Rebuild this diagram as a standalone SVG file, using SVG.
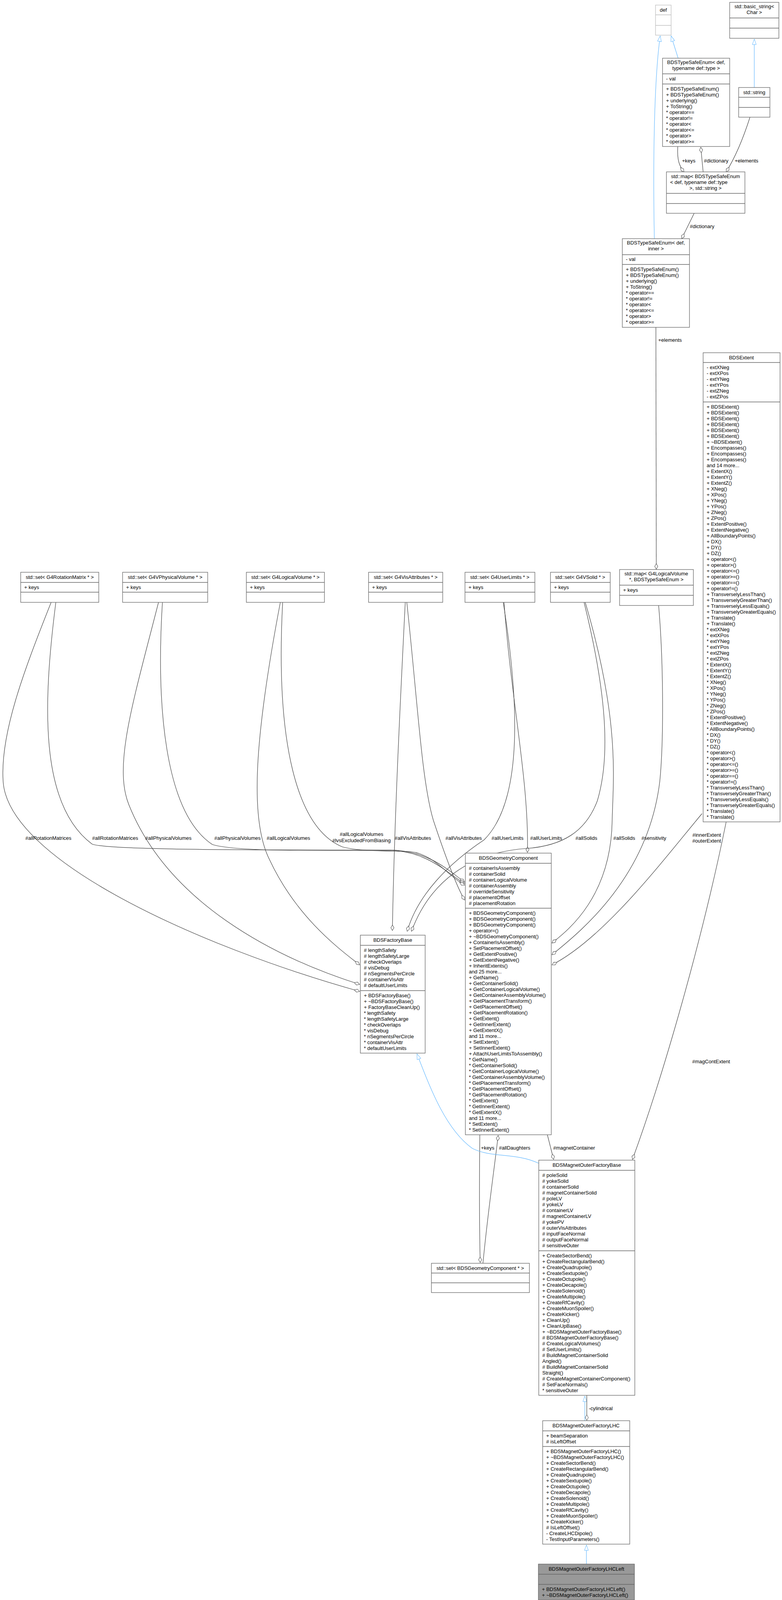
<svg xmlns="http://www.w3.org/2000/svg" width="2003" height="4102" viewBox="0 0 2003 4102">
<style>
text{font-family:"Liberation Sans",Arial,sans-serif;font-size:13px;fill:#000}
.c{text-anchor:middle}
.n rect{fill:#fff;stroke:#666;stroke-width:1.3}
.n line{stroke:#666;stroke-width:1.3}
.g rect{stroke:#bfbfbf}.g line{stroke:#bfbfbf}
.cur rect{fill:#999}
.e path{fill:none;stroke:#404040;stroke-width:1.2}
.e path.d{marker-end:url(#dia)}
.e path.i{stroke:#63b8ff;marker-end:url(#tri)}
</style>
<defs>
<marker id="dia" viewBox="0 0 16 10" refX="15" refY="5" markerWidth="16" markerHeight="10" orient="auto" markerUnits="userSpaceOnUse"><path d="M1,5 L8,1 L15,5 L8,9 Z" fill="#fff" stroke="#404040"/></marker>
<marker id="tri" viewBox="0 0 16 12" refX="15" refY="6" markerWidth="16" markerHeight="12" orient="auto" markerUnits="userSpaceOnUse"><path d="M1,1 L15,6 L1,11 Z" fill="#fff" stroke="#63b8ff"/></marker>
</defs>
<rect width="2003" height="4102" fill="#fff"/>
<g class="e" id="edges">
<path class="i" d="M1737,149 L1719,92"/>
<path class="i" d="M1676,611 C1672,400 1676,200 1691,92"/>
<path class="i" d="M1932,224 L1932,100"/>
<path class="d" d="M1736,375 C1734,410 1740,425 1752,440"/>
<path class="d" d="M1801,440 L1795,377"/>
<path class="d" d="M1921,300 C1905,350 1885,400 1860,440"/>
<path class="d" d="M1778,546 L1746,611"/>
<path class="d" d="M1680,838 L1681,1457"/>
<path class="d" d="M131,1542 C60,1720 0,1880 8,2000 C20,2200 500,2420 921,2538"/>
<path class="d" d="M143,1542 C110,1800 100,2060 236,2161 C280,2177 700,2176 1000,2176 C1100,2178 1150,2230 1190,2258"/>
<path class="d" d="M406,1542 C340,1800 290,1960 330,2060 C430,2310 700,2450 921,2520"/>
<path class="d" d="M416,1542 C400,1800 420,2080 544,2162 C600,2180 800,2177 1000,2177 C1100,2180 1150,2240 1190,2262"/>
<path class="d" d="M718,1542 C650,1900 640,2100 690,2200 C760,2350 870,2430 921,2470"/>
<path class="d" d="M724,1542 C705,1900 760,2120 877,2168 C920,2180 1000,2178 1050,2180 C1110,2185 1150,2245 1190,2266"/>
<path class="d" d="M1038,1542 C1025,1800 1010,2100 1005,2382"/>
<path class="d" d="M1042,1542 C1070,1800 1080,2000 1110,2100 C1140,2190 1170,2270 1190,2304"/>
<path class="d" d="M1289,1542 C1330,1800 1340,2050 1240,2150 C1150,2210 1070,2290 1043,2384"/>
<path class="d" d="M1291,1542 C1310,1800 1355,2000 1351,2182"/>
<path class="d" d="M1496,1542 C1560,1800 1560,1950 1530,2050 C1500,2130 1440,2165 1350,2172 C1200,2182 1100,2260 1054,2384"/>
<path class="d" d="M1499,1542 C1590,1850 1570,2000 1568,2100 C1565,2300 1450,2385 1414,2414"/>
<path class="d" d="M1687,1550 C1700,1700 1700,1900 1690,2000 C1660,2250 1480,2390 1414,2444"/>
<path class="d" d="M1798,2083 C1700,2200 1550,2400 1414,2470"/>
<path class="d" d="M1860,2104 C1800,2400 1700,2750 1620,2968"/>
<path class="d" d="M1229,2905 C1228,3000 1228,3150 1230,3232"/>
<path class="d" d="M1237,3234 C1250,3100 1265,3000 1276,2907"/>
<path class="d" d="M1402,2905 L1418,2968"/>
<path class="i" d="M1380,2978 C1320,2950 1260,2965 1210,2940 C1140,2890 1100,2780 1068,2698"/>
<path class="i" d="M1498,3637 L1498,3574"/>
<path class="d" d="M1503,3572 L1503,3636"/>
<path class="i" d="M1502,4004 L1502,3955"/>
<text x="1747" y="416">+keys</text>
<text x="1803" y="416">#dictionary</text>
<text x="1882" y="416">+elements</text>
<text x="1767" y="584">#dictionary</text>
<text x="1686" y="875">+elements</text>
<text x="65" y="2150">#allRotationMatrices</text>
<text x="236" y="2150">#allRotationMatrices</text>
<text x="372" y="2150">#allPhysicalVolumes</text>
<text x="549" y="2150">#allPhysicalVolumes</text>
<text x="683" y="2150">#allLogicalVolumes</text>
<text class="c" x="926" y="2140">#allLogicalVolumes</text>
<text class="c" x="926" y="2156">#lvsExcludedFromBiasing</text>
<text x="1011" y="2150">#allVisAttributes</text>
<text x="1141" y="2150">#allVisAttributes</text>
<text x="1259" y="2150">#allUserLimits</text>
<text x="1358" y="2150">#allUserLimits</text>
<text x="1474" y="2150">#allSolids</text>
<text x="1571" y="2150">#allSolids</text>
<text x="1643" y="2150">#sensitivity</text>
<text class="c" x="1810" y="2142">#innerExtent</text>
<text class="c" x="1810" y="2157">#outerExtent</text>
<text x="1773" y="2722">#magContExtent</text>
<text x="1232" y="2943">+keys</text>
<text x="1278" y="2943">#allDaughters</text>
<text x="1417" y="2943">#magnetContainer</text>
<text x="1508" y="3610">-cylindrical</text>
</g>
<g class="n g" id="def"><rect x="1679" y="13" width="40" height="77"/><line x1="1679" y1="38" x2="1719" y2="38"/><line x1="1679" y1="65" x2="1719" y2="65"/><text class="c" x="1699" y="30">def</text></g>
<g class="n" id="basic_string"><rect x="1869" y="6" width="126" height="92"/><line x1="1869" y1="46" x2="1995" y2="46"/><line x1="1869" y1="72" x2="1995" y2="72"/><text class="c" x="1932" y="21">std::basic_string&lt;</text><text class="c" x="1932" y="36">Char &gt;</text></g>
<g class="n" id="tse_type"><rect x="1697" y="149" width="172" height="226"/><line x1="1697" y1="189" x2="1869" y2="189"/><line x1="1697" y1="215" x2="1869" y2="215"/>
<text class="c" x="1783" y="164">BDSTypeSafeEnum&lt; def,</text><text class="c" x="1783" y="179">typename def::type &gt;</text>
<text x="1706" y="206">- val</text>
<text x="1706" y="232">+ BDSTypeSafeEnum()</text><text x="1706" y="247">+ BDSTypeSafeEnum()</text><text x="1706" y="262">+ underlying()</text><text x="1706" y="277">+ ToString()</text><text x="1706" y="292">* operator==</text><text x="1706" y="307">* operator!=</text><text x="1706" y="322">* operator&lt;</text><text x="1706" y="337">* operator&lt;=</text><text x="1706" y="352">* operator&gt;</text><text x="1706" y="367">* operator&gt;=</text></g>
<g class="n" id="std_string"><rect x="1892" y="224" width="80" height="76"/><line x1="1892" y1="249" x2="1972" y2="249"/><line x1="1892" y1="275" x2="1972" y2="275"/><text class="c" x="1932" y="241">std::string</text></g>
<g class="n" id="map_tse"><rect x="1707" y="440" width="201" height="106"/><line x1="1707" y1="495" x2="1908" y2="495"/><line x1="1707" y1="521" x2="1908" y2="521"/>
<text class="c" x="1807" y="456">std::map&lt; BDSTypeSafeEnum</text><text class="c" x="1790" y="471">&lt; def, typename def::type</text><text class="c" x="1807" y="486">&gt;, std::string &gt;</text></g>
<g class="n" id="tse_inner"><rect x="1594" y="611" width="172" height="227"/><line x1="1594" y1="652" x2="1766" y2="652"/><line x1="1594" y1="677" x2="1766" y2="677"/>
<text class="c" x="1680" y="626">BDSTypeSafeEnum&lt; def,</text><text class="c" x="1680" y="641">inner &gt;</text>
<text x="1603" y="668">- val</text>
<text x="1603" y="694">+ BDSTypeSafeEnum()</text><text x="1603" y="709">+ BDSTypeSafeEnum()</text><text x="1603" y="724">+ underlying()</text><text x="1603" y="739">+ ToString()</text><text x="1603" y="754">* operator==</text><text x="1603" y="769">* operator!=</text><text x="1603" y="784">* operator&lt;</text><text x="1603" y="799">* operator&lt;=</text><text x="1603" y="814">* operator&gt;</text><text x="1603" y="829">* operator&gt;=</text></g>
<g class="n" id="set_rm"><rect x="53" y="1465" width="200" height="77"/><line x1="53" y1="1491" x2="253" y2="1491"/><line x1="53" y1="1516" x2="253" y2="1516"/><text class="c" x="153" y="1482">std::set&lt; G4RotationMatrix * &gt;</text><text x="62" y="1508">+ keys</text></g>
<g class="n" id="set_pv"><rect x="314" y="1465" width="218" height="77"/><line x1="314" y1="1491" x2="532" y2="1491"/><line x1="314" y1="1516" x2="532" y2="1516"/><text class="c" x="423" y="1482">std::set&lt; G4VPhysicalVolume * &gt;</text><text x="323" y="1508">+ keys</text></g>
<g class="n" id="set_lv"><rect x="631" y="1465" width="200" height="77"/><line x1="631" y1="1491" x2="831" y2="1491"/><line x1="631" y1="1516" x2="831" y2="1516"/><text class="c" x="731" y="1482">std::set&lt; G4LogicalVolume * &gt;</text><text x="640" y="1508">+ keys</text></g>
<g class="n" id="set_va"><rect x="944" y="1465" width="190" height="77"/><line x1="944" y1="1491" x2="1134" y2="1491"/><line x1="944" y1="1516" x2="1134" y2="1516"/><text class="c" x="1039" y="1482">std::set&lt; G4VisAttributes * &gt;</text><text x="953" y="1508">+ keys</text></g>
<g class="n" id="set_ul"><rect x="1191" y="1465" width="179" height="77"/><line x1="1191" y1="1491" x2="1370" y2="1491"/><line x1="1191" y1="1516" x2="1370" y2="1516"/><text class="c" x="1280" y="1482">std::set&lt; G4UserLimits * &gt;</text><text x="1200" y="1508">+ keys</text></g>
<g class="n" id="set_vs"><rect x="1410" y="1465" width="153" height="77"/><line x1="1410" y1="1491" x2="1563" y2="1491"/><line x1="1410" y1="1516" x2="1563" y2="1516"/><text class="c" x="1486" y="1482">std::set&lt; G4VSolid * &gt;</text><text x="1419" y="1508">+ keys</text></g>
<g class="n" id="map_lv"><rect x="1587" y="1458" width="189" height="92"/><line x1="1587" y1="1498" x2="1776" y2="1498"/><line x1="1587" y1="1524" x2="1776" y2="1524"/><text class="c" x="1681" y="1473">std::map&lt; G4LogicalVolume</text><text class="c" x="1681" y="1488">*, BDSTypeSafeEnum &gt;</text><text x="1596" y="1515">+ keys</text></g>
<g class="n" id="BDSExtent"><rect x="1801" y="903" width="197" height="1201"/><line x1="1801" y1="928" x2="1998" y2="928"/><line x1="1801" y1="1029" x2="1998" y2="1029"/>
<text class="c" x="1899" y="920">BDSExtent</text>
<text x="1810" y="945">- extXNeg</text><text x="1810" y="960">- extXPos</text><text x="1810" y="975">- extYNeg</text><text x="1810" y="990">- extYPos</text><text x="1810" y="1005">- extZNeg</text><text x="1810" y="1020">- extZPos</text>
<text x="1810" y="1046">+ BDSExtent()</text><text x="1810" y="1061">+ BDSExtent()</text><text x="1810" y="1076">+ BDSExtent()</text><text x="1810" y="1091">+ BDSExtent()</text><text x="1810" y="1106">+ BDSExtent()</text><text x="1810" y="1121">+ BDSExtent()</text><text x="1810" y="1136">+ ~BDSExtent()</text><text x="1810" y="1151">+ Encompasses()</text><text x="1810" y="1166">+ Encompasses()</text><text x="1810" y="1181">+ Encompasses()</text><text x="1810" y="1196">and 14 more...</text><text x="1810" y="1211">+ ExtentX()</text><text x="1810" y="1226">+ ExtentY()</text><text x="1810" y="1241">+ ExtentZ()</text><text x="1810" y="1256">+ XNeg()</text><text x="1810" y="1271">+ XPos()</text><text x="1810" y="1286">+ YNeg()</text><text x="1810" y="1301">+ YPos()</text><text x="1810" y="1316">+ ZNeg()</text><text x="1810" y="1331">+ ZPos()</text><text x="1810" y="1346">+ ExtentPositive()</text><text x="1810" y="1361">+ ExtentNegative()</text><text x="1810" y="1376">+ AllBoundaryPoints()</text><text x="1810" y="1391">+ DX()</text><text x="1810" y="1406">+ DY()</text><text x="1810" y="1421">+ DZ()</text><text x="1810" y="1436">+ operator&lt;()</text><text x="1810" y="1451">+ operator&gt;()</text><text x="1810" y="1466">+ operator&lt;=()</text><text x="1810" y="1481">+ operator&gt;=()</text><text x="1810" y="1496">+ operator==()</text><text x="1810" y="1511">+ operator!=()</text><text x="1810" y="1526">+ TransverselyLessThan()</text><text x="1810" y="1541">+ TransverselyGreaterThan()</text><text x="1810" y="1556">+ TransverselyLessEquals()</text><text x="1810" y="1571">+ TransverselyGreaterEquals()</text><text x="1810" y="1586">+ Translate()</text><text x="1810" y="1601">+ Translate()</text><text x="1810" y="1616">* extXNeg</text><text x="1810" y="1631">* extXPos</text><text x="1810" y="1646">* extYNeg</text><text x="1810" y="1661">* extYPos</text><text x="1810" y="1676">* extZNeg</text><text x="1810" y="1691">* extZPos</text><text x="1810" y="1706">* ExtentX()</text><text x="1810" y="1721">* ExtentY()</text><text x="1810" y="1736">* ExtentZ()</text><text x="1810" y="1751">* XNeg()</text><text x="1810" y="1766">* XPos()</text><text x="1810" y="1781">* YNeg()</text><text x="1810" y="1796">* YPos()</text><text x="1810" y="1811">* ZNeg()</text><text x="1810" y="1826">* ZPos()</text><text x="1810" y="1841">* ExtentPositive()</text><text x="1810" y="1856">* ExtentNegative()</text><text x="1810" y="1871">* AllBoundaryPoints()</text><text x="1810" y="1886">* DX()</text><text x="1810" y="1901">* DY()</text><text x="1810" y="1916">* DZ()</text><text x="1810" y="1931">* operator&lt;()</text><text x="1810" y="1946">* operator&gt;()</text><text x="1810" y="1961">* operator&lt;=()</text><text x="1810" y="1976">* operator&gt;=()</text><text x="1810" y="1991">* operator==()</text><text x="1810" y="2006">* operator!=()</text><text x="1810" y="2021">* TransverselyLessThan()</text><text x="1810" y="2036">* TransverselyGreaterThan()</text><text x="1810" y="2051">* TransverselyLessEquals()</text><text x="1810" y="2066">* TransverselyGreaterEquals()</text><text x="1810" y="2081">* Translate()</text><text x="1810" y="2096">* Translate()</text></g>
<g class="n" id="BDSGeometryComponent"><rect x="1192" y="2184" width="220" height="721"/><line x1="1192" y1="2210" x2="1412" y2="2210"/><line x1="1192" y1="2325" x2="1412" y2="2325"/>
<text class="c" x="1302" y="2201">BDSGeometryComponent</text>
<text x="1201" y="2227"># containerIsAssembly</text><text x="1201" y="2242"># containerSolid</text><text x="1201" y="2257"># containerLogicalVolume</text><text x="1201" y="2272"># containerAssembly</text><text x="1201" y="2287"># overrideSensitivity</text><text x="1201" y="2302"># placementOffset</text><text x="1201" y="2317"># placementRotation</text>
<text x="1201" y="2342">+ BDSGeometryComponent()</text><text x="1201" y="2357">+ BDSGeometryComponent()</text><text x="1201" y="2372">+ BDSGeometryComponent()</text><text x="1201" y="2387">+ operator=()</text><text x="1201" y="2402">+ ~BDSGeometryComponent()</text><text x="1201" y="2417">+ ContainerIsAssembly()</text><text x="1201" y="2432">+ SetPlacementOffset()</text><text x="1201" y="2447">+ GetExtentPositive()</text><text x="1201" y="2462">+ GetExtentNegative()</text><text x="1201" y="2477">+ InheritExtents()</text><text x="1201" y="2492">and 25 more...</text><text x="1201" y="2507">+ GetName()</text><text x="1201" y="2522">+ GetContainerSolid()</text><text x="1201" y="2537">+ GetContainerLogicalVolume()</text><text x="1201" y="2552">+ GetContainerAssemblyVolume()</text><text x="1201" y="2567">+ GetPlacementTransform()</text><text x="1201" y="2582">+ GetPlacementOffset()</text><text x="1201" y="2597">+ GetPlacementRotation()</text><text x="1201" y="2612">+ GetExtent()</text><text x="1201" y="2627">+ GetInnerExtent()</text><text x="1201" y="2642">+ GetExtentX()</text><text x="1201" y="2657">and 11 more...</text><text x="1201" y="2672">+ SetExtent()</text><text x="1201" y="2687">+ SetInnerExtent()</text><text x="1201" y="2702">+ AttachUserLimitsToAssembly()</text><text x="1201" y="2717">* GetName()</text><text x="1201" y="2732">* GetContainerSolid()</text><text x="1201" y="2747">* GetContainerLogicalVolume()</text><text x="1201" y="2762">* GetContainerAssemblyVolume()</text><text x="1201" y="2777">* GetPlacementTransform()</text><text x="1201" y="2792">* GetPlacementOffset()</text><text x="1201" y="2807">* GetPlacementRotation()</text><text x="1201" y="2822">* GetExtent()</text><text x="1201" y="2837">* GetInnerExtent()</text><text x="1201" y="2852">* GetExtentX()</text><text x="1201" y="2867">and 11 more...</text><text x="1201" y="2882">* SetExtent()</text><text x="1201" y="2897">* SetInnerExtent()</text></g>
<g class="n" id="BDSFactoryBase"><rect x="923" y="2394" width="166" height="302"/><line x1="923" y1="2420" x2="1089" y2="2420"/><line x1="923" y1="2536" x2="1089" y2="2536"/>
<text class="c" x="1006" y="2411">BDSFactoryBase</text>
<text x="932" y="2437"># lengthSafety</text><text x="932" y="2452"># lengthSafetyLarge</text><text x="932" y="2467"># checkOverlaps</text><text x="932" y="2482"># visDebug</text><text x="932" y="2497"># nSegmentsPerCircle</text><text x="932" y="2512"># containerVisAttr</text><text x="932" y="2527"># defaultUserLimits</text>
<text x="932" y="2553">+ BDSFactoryBase()</text><text x="932" y="2568">+ ~BDSFactoryBase()</text><text x="932" y="2583">+ FactoryBaseCleanUp()</text><text x="932" y="2598">* lengthSafety</text><text x="932" y="2613">* lengthSafetyLarge</text><text x="932" y="2628">* checkOverlaps</text><text x="932" y="2643">* visDebug</text><text x="932" y="2658">* nSegmentsPerCircle</text><text x="932" y="2673">* containerVisAttr</text><text x="932" y="2688">* defaultUserLimits</text></g>
<g class="n" id="set_gc"><rect x="1105" y="3234" width="251" height="75"/><line x1="1105" y1="3259" x2="1356" y2="3259"/><line x1="1105" y1="3284" x2="1356" y2="3284"/><text class="c" x="1230" y="3251">std::set&lt; BDSGeometryComponent * &gt;</text></g>
<g class="n" id="BDSMagnetOuterFactoryBase"><rect x="1380" y="2970" width="246" height="602"/><line x1="1380" y1="2996" x2="1626" y2="2996"/><line x1="1380" y1="3202" x2="1626" y2="3202"/>
<text class="c" x="1503" y="2987">BDSMagnetOuterFactoryBase</text>
<text x="1389" y="3013"># poleSolid</text><text x="1389" y="3028"># yokeSolid</text><text x="1389" y="3043"># containerSolid</text><text x="1389" y="3058"># magnetContainerSolid</text><text x="1389" y="3073"># poleLV</text><text x="1389" y="3088"># yokeLV</text><text x="1389" y="3103"># containerLV</text><text x="1389" y="3118"># magnetContainerLV</text><text x="1389" y="3133"># yokePV</text><text x="1389" y="3148"># outerVisAttributes</text><text x="1389" y="3163"># inputFaceNormal</text><text x="1389" y="3178"># outputFaceNormal</text><text x="1389" y="3193"># sensitiveOuter</text>
<text x="1389" y="3219">+ CreateSectorBend()</text><text x="1389" y="3234">+ CreateRectangularBend()</text><text x="1389" y="3249">+ CreateQuadrupole()</text><text x="1389" y="3264">+ CreateSextupole()</text><text x="1389" y="3279">+ CreateOctupole()</text><text x="1389" y="3294">+ CreateDecapole()</text><text x="1389" y="3309">+ CreateSolenoid()</text><text x="1389" y="3324">+ CreateMultipole()</text><text x="1389" y="3339">+ CreateRfCavity()</text><text x="1389" y="3354">+ CreateMuonSpoiler()</text><text x="1389" y="3369">+ CreateKicker()</text><text x="1389" y="3384">+ CleanUp()</text><text x="1389" y="3399">+ CleanUpBase()</text><text x="1389" y="3414">+ ~BDSMagnetOuterFactoryBase()</text><text x="1389" y="3429"># BDSMagnetOuterFactoryBase()</text><text x="1389" y="3444"># CreateLogicalVolumes()</text><text x="1389" y="3459"># SetUserLimits()</text><text x="1389" y="3474"># BuildMagnetContainerSolid</text><text x="1389" y="3489">Angled()</text><text x="1389" y="3504"># BuildMagnetContainerSolid</text><text x="1389" y="3519">Straight()</text><text x="1389" y="3534"># CreateMagnetContainerComponent()</text><text x="1389" y="3549"># SetFaceNormals()</text><text x="1389" y="3564">* sensitiveOuter</text></g>
<g class="n" id="BDSMagnetOuterFactoryLHC"><rect x="1390" y="3637" width="223" height="316"/><line x1="1390" y1="3663" x2="1613" y2="3663"/><line x1="1390" y1="3703" x2="1613" y2="3703"/>
<text class="c" x="1501" y="3654">BDSMagnetOuterFactoryLHC</text>
<text x="1399" y="3680">+ beamSeparation</text><text x="1399" y="3695"># isLeftOffset</text>
<text x="1399" y="3720">+ BDSMagnetOuterFactoryLHC()</text><text x="1399" y="3735">+ ~BDSMagnetOuterFactoryLHC()</text><text x="1399" y="3750">+ CreateSectorBend()</text><text x="1399" y="3765">+ CreateRectangularBend()</text><text x="1399" y="3780">+ CreateQuadrupole()</text><text x="1399" y="3795">+ CreateSextupole()</text><text x="1399" y="3810">+ CreateOctupole()</text><text x="1399" y="3825">+ CreateDecapole()</text><text x="1399" y="3840">+ CreateSolenoid()</text><text x="1399" y="3855">+ CreateMultipole()</text><text x="1399" y="3870">+ CreateRfCavity()</text><text x="1399" y="3885">+ CreateMuonSpoiler()</text><text x="1399" y="3900">+ CreateKicker()</text><text x="1399" y="3915"># IsLeftOffset()</text><text x="1399" y="3930">- CreateLHCDipole()</text><text x="1399" y="3945">- TestInputParameters()</text></g>
<g class="n cur" id="BDSMagnetOuterFactoryLHCLeft"><rect x="1379" y="4004" width="246" height="92"/><line x1="1379" y1="4030" x2="1625" y2="4030"/><line x1="1379" y1="4056" x2="1625" y2="4056"/>
<text class="c" x="1502" y="4021">BDSMagnetOuterFactoryLHCLeft</text>
<text x="1388" y="4073">+ BDSMagnetOuterFactoryLHCLeft()</text><text x="1388" y="4088">+ ~BDSMagnetOuterFactoryLHCLeft()</text></g>
</svg>
